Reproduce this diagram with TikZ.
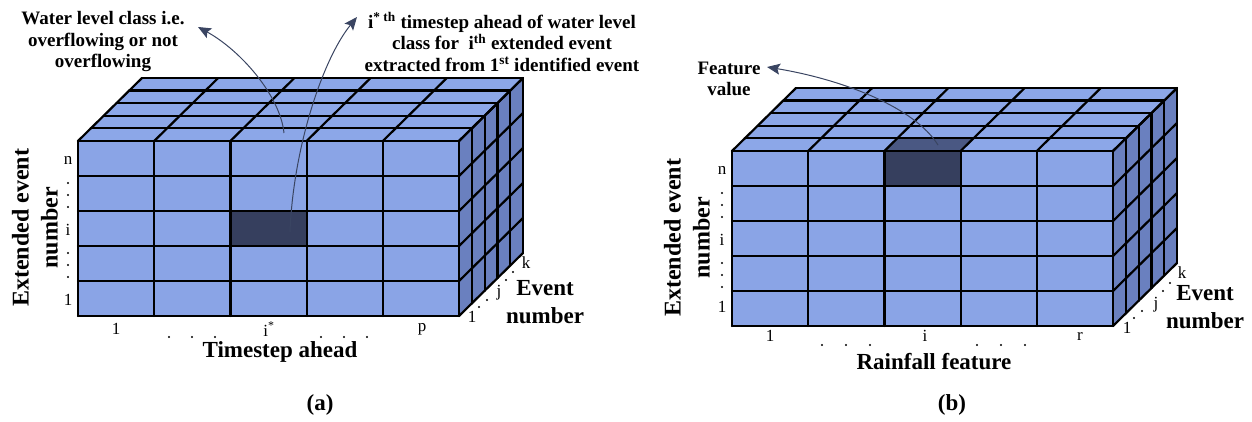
\documentclass[tikz,border=0pt]{standalone}
\usepackage{fontspec}
\setmainfont{Liberation Serif}
\usetikzlibrary{arrows.meta}
\definecolor{frontc}{HTML}{8AA4E6}
\definecolor{topc}{HTML}{8CA7E8}
\definecolor{sidec}{HTML}{6A80BF}
\definecolor{darkc}{HTML}{363F5E}
\definecolor{darktop}{HTML}{4A5883}
\definecolor{arrc}{HTML}{3A4562}
\def\cw{76.2}
\def\ch{35}
\def\ddx{12.8}
\def\ddy{-12.6}
\newcommand{\cubefills}{%
  \fill[topc] (0,0) -- ({5*\cw},0) -- ({5*\cw+5*\ddx},{5*\ddy}) -- ({5*\ddx},{5*\ddy}) -- cycle;
  \fill[sidec] ({5*\cw},0) -- ({5*\cw},{5*\ch}) -- ({5*\cw+5*\ddx},{5*\ch+5*\ddy}) -- ({5*\cw+5*\ddx},{5*\ddy}) -- cycle;
  \fill[frontc] (0,0) rectangle ({5*\cw},{5*\ch});
}
\newcommand{\cubelines}{%
  \foreach \j in {0,...,5} \draw[gridl] ({\j*\ddx},{\j*\ddy}) -- ({5*\cw+\j*\ddx},{\j*\ddy});
  \foreach \i in {0,...,5} \draw[gridl] ({\i*\cw},0) -- ({\i*\cw+5*\ddx},{5*\ddy});
  \foreach \j in {0,...,5} \draw[gridl] ({5*\cw+\j*\ddx},{\j*\ddy}) -- ({5*\cw+\j*\ddx},{5*\ch+\j*\ddy});
  \foreach \r in {0,...,5} \draw[gridl] ({5*\cw},{\r*\ch}) -- ({5*\cw+5*\ddx},{\r*\ch+5*\ddy});
  \foreach \i in {0,...,5} \draw[gridl] ({\i*\cw},0) -- ({\i*\cw},{5*\ch});
  \foreach \r in {0,...,5} \draw[gridl] (0,{\r*\ch}) -- ({5*\cw},{\r*\ch});
}
\tikzset{
  gridl/.style={line width=2.2pt, black, line cap=round, line join=round},
  ann/.style={font=\fontsize{19}{21.5}\selectfont\bfseries, align=center, inner sep=0pt},
  axlab/.style={font=\fontsize{23}{28}\selectfont\bfseries, align=center, inner sep=0pt},
  vlab/.style={font=\fontsize{24}{29}\selectfont\bfseries, align=center, inner sep=0pt, rotate=90},
  lab/.style={font=\fontsize{17}{17}\selectfont, inner sep=0pt},
  capt/.style={font=\fontsize{23}{23}\selectfont\bfseries, inner sep=0pt},
  annarrow/.style={draw=arrc, line width=1pt, -{Stealth[length=13pt,width=11pt,inset=2.5pt]}},
  dotm/.style={fill=black}
}
\begin{document}
\begin{tikzpicture}[x=1pt,y=-1pt]
\useasboundingbox (0,0) rectangle (1252,422);
% ---------------- panel (a)
\begin{scope}[shift={(78,141)}]
  \cubefills
  \fill[darkc] ({2*\cw},{2*\ch}) rectangle ({3*\cw},{3*\ch});
  \cubelines
\end{scope}
\node[ann] (wl) at (103,42) {Water level class i.e.\\overflowing or not\\overflowing};
\node[ann] (ts) at (502,42) {i\textsuperscript{* th} timestep ahead of water level\\class for\ \ i\textsuperscript{th} extended event\\extracted from 1\textsuperscript{st} identified event};
\coordinate (a1s) at (284,133);
\coordinate (a1e) at (198,27);
\coordinate (a2s) at (290,232);
\coordinate (a2e) at (357,17);
\draw[annarrow] (a1s) .. controls (280,95) and (240,50) .. (a1e);
\draw[annarrow] (a2s) .. controls (293,150) and (322,60) .. (a2e);
\node[vlab] (yla) at (35,228) {Extended event\\number};
\node[lab] (an) at (68,160) {n};
\node[lab] (ai) at (68,230) {i};
\node[lab] (a1) at (68,300) {1};
\foreach \y in {183,195,207,253,265,277} \fill[dotm] (68,\y) circle (1.1pt);
\node[lab] (b1) at (116,329) {1};
\node[lab] (bi) at (269,329) {i\textsuperscript{*}};
\node[lab] (bp) at (422,329) {p};
\foreach \x in {169,192,215,321,344,367} \fill[dotm] (\x,337) circle (1.1pt);
\node[axlab] (xla) at (280,352) {Timestep ahead};
\node[lab] (e1) at (472,317) {1};
\node[lab] (ej) at (499,293) {j};
\node[lab] (ek) at (526,263) {k};
\foreach \p in {(479,307),(487,300),(506,280),(513,272)} \fill[dotm] \p circle (1.1pt);
\node[axlab] (ena) at (545,302) {Event\\number};
\node[capt] (capa) at (320,405) {(a)};
% ---------------- panel (b)
\begin{scope}[shift={(732,151)}]
  \cubefills
  \fill[darkc] ({2*\cw},0) rectangle ({3*\cw},{\ch});
  \fill[darktop] ({2*\cw},0) -- ({3*\cw},0) -- ({3*\cw+\ddx},{\ddy}) -- ({2*\cw+\ddx},{\ddy}) -- cycle;
  \cubelines
\end{scope}
\node[ann] (fv) at (729,79) {Feature\\value};
\coordinate (b1s) at (938,145);
\coordinate (b1e) at (767,67);
\draw[annarrow] (b1s) .. controls (915,108) and (845,80) .. (b1e);
\node[vlab] (ylb) at (687,238) {Extended event\\number};
\node[lab] (bn) at (722,170) {n};
\node[lab] (bii) at (722,240) {i};
\node[lab] (bb1) at (722,307) {1};
\foreach \y in {193,205,217,263,275,287} \fill[dotm] (722,\y) circle (1.1pt);
\node[lab] (c1) at (770,336) {1};
\node[lab] (ci) at (925,336) {i};
\node[lab] (cr) at (1080,336) {r};
\foreach \x in {822,846,870,977,1001,1025} \fill[dotm] (\x,345) circle (1.1pt);
\node[axlab] (xlb) at (934,362) {Rainfall feature};
\node[lab] (f1) at (1127,328) {1};
\node[lab] (fj) at (1156,305) {j};
\node[lab] (fk) at (1182,273) {k};
\foreach \p in {(1134,318),(1142,311),(1163,291),(1170,283)} \fill[dotm] \p circle (1.1pt);
\node[axlab] (enb) at (1205,307) {Event\\number};
\node[capt] (capb) at (952,405) {(b)};
\end{tikzpicture}
\end{document}
